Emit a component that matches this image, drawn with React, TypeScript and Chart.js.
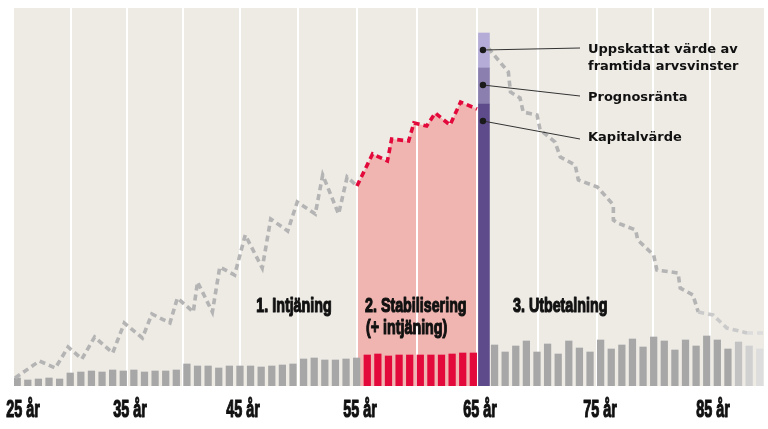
import React, { useEffect, useRef } from 'react';
import { Chart, registerables } from 'chart.js';

Chart.register(...registerables);

// ---- data (schematic units, one slot per bar) ----
const barValues: (number | null)[] = [
  8, 6, 7, 8, 7, 13, 14, 15, 14, 16, 15, 16, 14, 15, 15, 16, 22, 20, 20, 18,
  20, 20, 20, 19, 20, 21, 22, 27, 28, 26, 26, 27, 28,
  31, 32, 30, 31, 31, 31, 31, 31, 32, 33, 33,
  null,
  41, 34, 40, 45, 34, 42, 32, 45, 38, 34, 46, 37, 41, 47, 39, 49, 45, 36, 46, 40,
  50, 46, 37, 44, 40, 37,
];
const stabFirstSlot = 33;
const stabLastSlot = 43;
const payoutSlot = 44;
const fadeSlots = [68, 69, 70];

const capitalValue = 282; // Kapitalvärde
const forecastRate = 36; // Prognosränta
const inheritanceGain = 35; // Uppskattat värde av framtida arvsvinster

const earnLineX = [-0.2, 2.1, 3.6, 4.8, 6.1, 7.3, 9.0, 10.1, 11.8, 12.7, 14.4, 15.1, 16.6, 17.0, 18.4, 19.1, 20.5, 21.5, 23.1, 23.9, 25.5, 26.4, 28.1, 28.8, 30.3, 31.1, 32.03];
const earnLineY = [8, 25, 18, 39, 27, 49, 33, 63, 48, 72, 63, 88, 74, 104, 74, 119, 111, 151, 118, 167, 155, 184, 172, 211, 172, 209, 200];

const stabLineX = [32.03, 33.5, 34.9, 35.3, 36.9, 37.4, 38.6, 39.4, 40.8, 41.8, 43.35];
const stabLineY = [200, 232, 225, 247, 245, 263, 260, 273, 261, 284, 277];

const payLineX = [44.4, 46.3, 46.5, 47.4, 47.7, 49.0, 49.3, 50.7, 51.2, 52.6, 52.9, 54.7, 56.2, 56.2, 56.6, 58.3, 58.5, 60.0, 60.3, 62.3, 62.5, 63.7, 64.2, 65.6, 66.9, 68.8, 70.4];
const payLineY = [338, 314, 294, 288, 274, 271, 256, 244, 229, 221, 206, 199, 181, 166, 163, 156, 146, 131, 116, 113, 98, 91, 74, 71, 58, 53, 53];

const tickPositions = [0.27, 5.07, 10.35, 15.63, 21.0, 26.47, 32.03, 37.69, 43.35, 49.1, 54.66, 59.94, 65.31];
const tickLabels = ['25 år', '', '35 år', '', '45 år', '', '55 år', '', '65 år', '', '75 år', '', '85 år'];

const sectionLabels = ['1. Intjäning', '2. Stabilisering', '(+ intjäning)', '3. Utbetalning'];
const legendLabels = ['Uppskattat värde av', 'framtida arvsvinster', 'Prognosränta', 'Kapitalvärde'];

// ---- styles ----
const BEIGE = '#eeebe5';
const GREY_BAR = '#a7a7a7';
const RED = '#e3093b';
const PINK = '#f0b5b1';
const GREY_LINE = '#b4b4b4';
const PURPLE_DARK = '#5e4b8b';
const PURPLE_MID = '#8a7fae';
const PURPLE_LIGHT = '#b5acd7';
const FADE_COLORS = ['#c2c2c2', '#d0d0d0', '#dddddd'];
const CONDENSED_BASE = "'Liberation Sans', Arial, sans-serif";
const LEGEND_FONT = "'DejaVu Sans', sans-serif";
const INK = '#111111';

const zip = (xs: number[], ys: number[]) => xs.map((x, i) => ({ x, y: ys[i] }));

const barColors = barValues.map((_, i) => {
  const f = fadeSlots.indexOf(i);
  if (f >= 0) return FADE_COLORS[f];
  if (i >= stabFirstSlot && i <= stabLastSlot) return RED;
  return GREY_BAR;
});

// horizontally compressed heavy text (the original uses an extra-condensed black face)
function condensedText(ctx: CanvasRenderingContext2D, text: string, x: number, y: number, size: number, squeeze: number, align: CanvasTextAlign) {
  ctx.save();
  ctx.translate(x, y);
  ctx.scale(squeeze, 1);
  ctx.font = `bold ${size}px ${CONDENSED_BASE}`;
  ctx.textAlign = align;
  ctx.textBaseline = 'alphabetic';
  ctx.fillStyle = INK;
  ctx.strokeStyle = INK;
  ctx.lineWidth = 1.2;
  ctx.lineJoin = 'round';
  ctx.fillText(text, 0, 0);
  ctx.strokeText(text, 0, 0);
  ctx.restore();
}

const backgroundPlugin = {
  id: 'bg',
  beforeDraw(chart: any) {
    const { ctx, chartArea } = chart;
    ctx.save();
    ctx.fillStyle = BEIGE;
    ctx.fillRect(chartArea.left, chartArea.top, chartArea.right - chartArea.left, chartArea.bottom - chartArea.top);
    ctx.restore();
  },
};

// draw the white grid again right after the pink area so it sits on top of it
const gridOverFillPlugin = {
  id: 'gridOverFill',
  afterDatasetDraw(chart: any, args: any) {
    const ds = chart.data.datasets[args.index];
    if (ds && ds.label === 'fill') {
      const sc = chart.scales.x;
      if (typeof sc.drawGrid === 'function') sc.drawGrid(chart.chartArea);
    }
  },
};

const annotationPlugin = {
  id: 'annotations',
  afterDraw(chart: any) {
    const { ctx } = chart;
    const xs = chart.scales.x;
    const ys = chart.scales.y;
    ctx.save();

    // x tick labels, placed on the scale's own ticks
    xs.ticks.forEach((t: any, i: number) => {
      const label = tickLabels[i];
      if (!label) return;
      condensedText(ctx, label, xs.getPixelForValue(t.value) + 3, 417, 24, 0.6, 'center');
    });

    // section labels
    condensedText(ctx, sectionLabels[0], 294, 312, 21, 0.68, 'center');
    condensedText(ctx, sectionLabels[1], 365, 312, 21, 0.68, 'left');
    condensedText(ctx, sectionLabels[2], 366, 334, 21, 0.68, 'left');
    condensedText(ctx, sectionLabels[3], 513, 312, 21, 0.68, 'left');

    // markers on the payout bar
    const px = xs.getPixelForValue(payoutSlot) - 1;
    const tops = [
      capitalValue + forecastRate + inheritanceGain,
      capitalValue + forecastRate,
      capitalValue,
    ];
    const lineEnds = [48, 96, 139];
    tops.forEach((t, i) => {
      const py = ys.getPixelForValue(t - 17);
      ctx.strokeStyle = '#333333';
      ctx.lineWidth = 1;
      ctx.beginPath();
      ctx.moveTo(px, py);
      ctx.lineTo(580, lineEnds[i]);
      ctx.stroke();
      ctx.fillStyle = '#1a1a1a';
      ctx.beginPath();
      ctx.arc(px, py, 3.2, 0, Math.PI * 2);
      ctx.fill();
    });
    ctx.fillStyle = INK;
    ctx.font = `bold 13px ${LEGEND_FONT}`;
    ctx.textAlign = 'left';
    ctx.textBaseline = 'middle';
    ctx.fillText(legendLabels[0], 588, 50);
    ctx.fillText(legendLabels[1], 588, 67);
    ctx.fillText(legendLabels[2], 588, 98);
    ctx.fillText(legendLabels[3], 588, 138);
    ctx.restore();
  },
};

export default function App() {
  const canvasRef = useRef<HTMLCanvasElement | null>(null);

  useEffect(() => {
    const canvas = canvasRef.current;
    if (!canvas) return;
    const lineCommon = {
      type: 'line' as const,
      pointRadius: 0,
      borderWidth: 3.6,
      borderDash: [6, 4],
      borderCapStyle: 'butt' as const,
      tension: 0,
      fill: false,
      order: 1,
    };
    const chart = new Chart(canvas, {
      type: 'bar',
      data: {
        datasets: [
          {
            type: 'line',
            label: 'fill',
            data: zip(stabLineX, stabLineY),
            borderWidth: 0,
            pointRadius: 0,
            fill: 'origin',
            backgroundColor: PINK,
            order: 10,
            stack: 'fill',
          } as any,
          {
            type: 'bar',
            label: 'bars',
            data: barValues.map((v, i) => ({ x: i, y: v })),
            backgroundColor: barColors,
            barThickness: 6.6,
            grouped: false,
            order: 5,
            stack: 'bars',
          } as any,
          {
            type: 'bar',
            label: 'Kapitalvärde',
            data: [{ x: payoutSlot, y: capitalValue }],
            backgroundColor: PURPLE_DARK,
            barThickness: 11,
            grouped: false,
            order: 5,
            stack: 'payout',
          } as any,
          {
            type: 'bar',
            label: 'Prognosränta',
            data: [{ x: payoutSlot, y: forecastRate }],
            backgroundColor: PURPLE_MID,
            barThickness: 11,
            grouped: false,
            order: 5,
            stack: 'payout',
          } as any,
          {
            type: 'bar',
            label: 'Arvsvinster',
            data: [{ x: payoutSlot, y: inheritanceGain }],
            backgroundColor: PURPLE_LIGHT,
            barThickness: 11,
            grouped: false,
            order: 5,
            stack: 'payout',
          } as any,
          {
            ...lineCommon,
            label: 'earn',
            data: zip(earnLineX, earnLineY),
            borderColor: GREY_LINE,
            stack: 'l1',
          } as any,
          {
            ...lineCommon,
            label: 'stab',
            data: zip(stabLineX, stabLineY),
            borderColor: RED,
            stack: 'l2',
          } as any,
          {
            ...lineCommon,
            label: 'pay',
            data: zip(payLineX, payLineY),
            borderColor: GREY_LINE,
            segment: {
              borderColor: (c: any) => {
                const x = c.p0.parsed.x;
                if (x > 67) return '#dcdcdc';
                if (x > 64) return '#cacaca';
                return GREY_LINE;
              },
            },
            stack: 'l3',
          } as any,
        ],
      },
      options: {
        animation: false,
        responsive: false,
        devicePixelRatio: 1,
        layout: { padding: { left: 14, right: 4, top: 8, bottom: 43 } },
        plugins: { legend: { display: false }, tooltip: { enabled: false } },
        scales: {
          x: {
            type: 'linear',
            offset: false,
            min: -0.3,
            max: 70.4,
            border: { display: false },
            grid: {
              offset: false,
              drawTicks: false,
              lineWidth: 2,
              color: (c: any) => (c.index === 0 ? 'rgba(0,0,0,0)' : '#ffffff'),
            },
            afterBuildTicks: (axis: any) => {
              axis.ticks = tickPositions.map((v) => ({ value: v }));
            },
            ticks: { display: false },
          },
          y: {
            display: false,
            stacked: true,
            min: 0,
            max: 378,
          },
        },
      } as any,
      plugins: [backgroundPlugin, gridOverFillPlugin, annotationPlugin],
    });
    return () => chart.destroy();
  }, []);

  return (
    <div style={{ position: 'absolute', left: 0, top: 0, width: 768, height: 429 }}>
      <canvas ref={canvasRef} width={768} height={429} />
    </div>
  );
}
